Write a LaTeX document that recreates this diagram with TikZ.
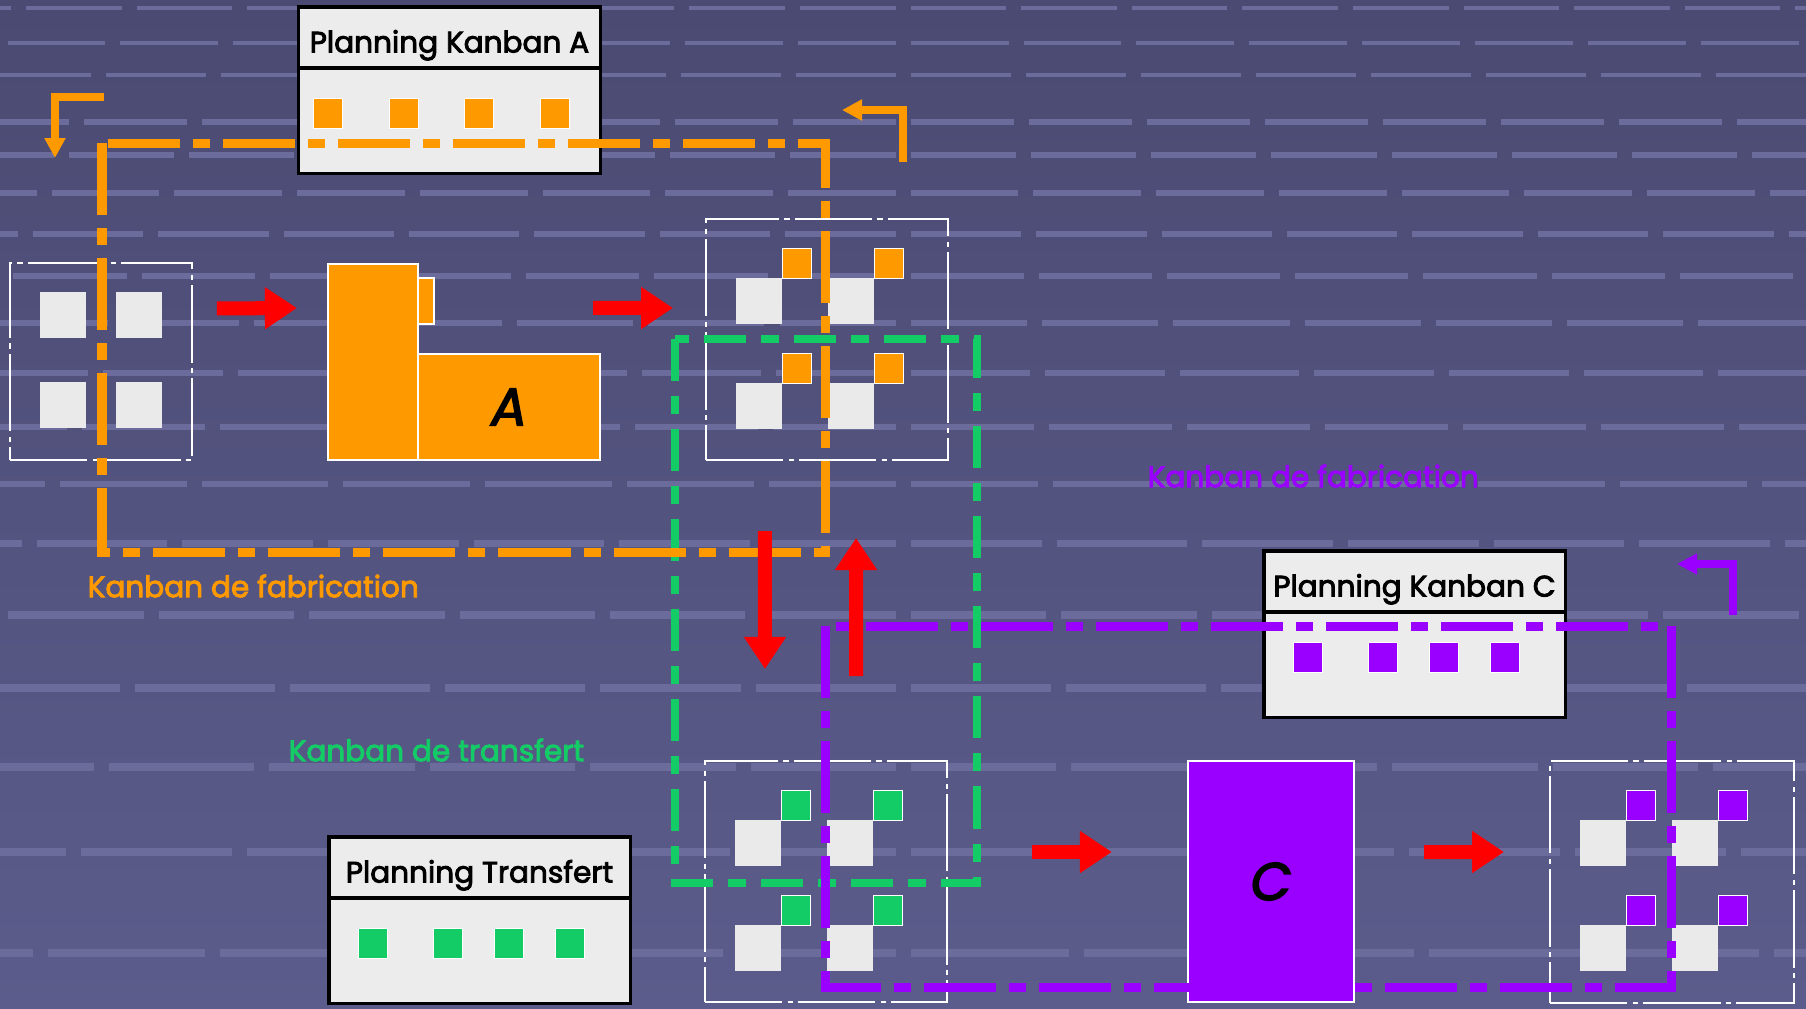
\documentclass[tikz,border=0pt]{standalone}
\usepackage{fontspec}
\setmainfont{Poppins}
\newfontfamily\kbfont{Poppins}[FakeBold=3]
\usetikzlibrary{arrows.meta, positioning, calc}
\definecolor{bgtop}{HTML}{4A4A72}
\definecolor{bgbot}{HTML}{5C5C8C}
\definecolor{bgstripe}{HTML}{6C6C9C}
\definecolor{kanA}{HTML}{FF9900}
\definecolor{kanT}{HTML}{14CC66}
\definecolor{kanC}{HTML}{9900FF}
\definecolor{paper}{HTML}{ECECEC}
\definecolor{binwhite}{HTML}{EAEAEA}
\definecolor{flow}{HTML}{FF0000}

\begin{document}
\begin{tikzpicture}[
    x=0.01cm, y=-0.01cm,
    font=\kbfont\fontsize{8.4}{10}\selectfont,
    board/.style={draw=black, fill=paper, line width=0.9pt, outer sep=0pt,
                  inner sep=0pt, minimum width=3.01cm},
    boardhead/.style={board, minimum height=0.61cm, text height=0.30cm, text depth=0pt},
    boardbody/.style={board, minimum height=1.05cm},
    card/.style={draw=white, line width=0.3pt, minimum width=0.29cm,
                 minimum height=0.30cm, inner sep=0pt, outer sep=0pt},
    stock/.style={draw=white, line width=0.5pt, inner sep=0pt,
                  dash pattern=on 22pt off 1.5pt on 1.5pt off 1.5pt},
    bin/.style={fill=binwhite, minimum size=0.46cm, inner sep=0pt, outer sep=0pt},
    machine/.style={draw=white, line width=0.6pt, inner sep=0pt, outer sep=0pt,
                    font=\kbfont\fontsize{15}{16}\selectfont\itshape},
    flowarrow/.style={draw=flow, line width=0.14cm,
                      -{Triangle[length=0.32cm, width=0.4cm]}},
    backflow/.style={line width=0.08cm, -{Triangle[length=0.2cm, width=0.2cm]}},
    fabloop/.style={line width=0.09cm,
                    dash pattern=on 0.72cm off 0.13cm on 0.17cm off 0.13cm},
    transloop/.style={line width=0.08cm, draw=kanT,
                      dash pattern=on 0.42cm off 0.15cm on 0.18cm off 0.15cm},
    looplabel/.style={anchor=west, inner sep=0pt},
]
    % Background
    \shade[top color=bgtop, bottom color=bgbot] (0,0) rectangle (1806,1008);
    \useasboundingbox (0,0) rectangle (1806,1008);
    \foreach \yy in {8,43,75,122,155,193,234,276,323,373,427,484,543,615,688,767,852,953} {
        \pgfmathsetmacro{\per}{1.10+0.00066*\yy}
        \pgfmathsetmacro{\seg}{\per-0.15}
        \pgfmathsetmacro{\xs}{910-1000*\per}
        \pgfmathsetmacro{\xe}{910+1000*\per}
        \pgfmathsetmacro{\th}{0.045+0.00004*\yy}
        \draw[bgstripe, line width=\th cm, dash pattern=on \seg cm off 0.15cm] (\xs,\yy) -- (\xe,\yy);
    }

    % Stock boxes
    \node[stock, minimum width=1.82cm, minimum height=1.97cm] (stockL) at (101,361.5) {};
    \foreach \dx/\dy [count=\i] in {31/30, 107/30, 31/120, 107/120}
        \node[bin, anchor=north west] (binL-\i) at ($(stockL.north west)+(\dx,\dy)$) {};

    \node[stock, minimum width=2.42cm, minimum height=2.41cm] (stockA) at (827,339.5) {};
    \node[stock, minimum width=2.42cm, minimum height=2.41cm] (stockT) at (826,881.5) {};
    \node[stock, minimum width=2.44cm, minimum height=2.42cm] (stockC) at (1672,882) {};
    \foreach \s/\c in {stockA/kanA, stockT/kanT, stockC/kanC}
        \foreach \dx/\dy [count=\i] in {31/60, 123/60, 31/165, 123/165} {
            \node[bin, anchor=north west] (\s-bin\i) at ($(\s.north west)+(\dx,\dy)$) {};
            \node[card, fill=\c, anchor=south west] (\s-card\i) at (\s-bin\i.north east) {};
        }

    % Machines
    \node[machine, fill=kanA, minimum width=0.90cm, minimum height=1.96cm] (machCol) at (373,362) {};
    \node[machine, fill=kanA, anchor=north west, minimum width=0.16cm, minimum height=0.46cm]
        (machTab) at ($(machCol.north east)+(0,14)$) {};
    \node[machine, fill=kanA, anchor=south west, minimum width=1.82cm, minimum height=1.06cm]
        (machA) at (machCol.south east) {A};
    \node[machine, fill=kanC, minimum width=1.66cm, minimum height=2.41cm] (machC) at (1271,881.5) {C};

    % Planning boards
    \node[boardhead] (headA) at (449.5,37.5) {Planning Kanban A};
    \node[boardbody, below=0pt of headA] (planA) {};
    \foreach \dx [count=\i] in {15,91,166,242}
        \node[card, fill=kanA, anchor=north west] (planA-card\i) at ($(planA.north west)+(\dx,30)$) {};

    \node[boardhead] (headC) at (1414.5,581.5) {Planning Kanban C};
    \node[boardbody, below=0pt of headC] (planC) {};
    \foreach \dx [count=\i] in {30,105,166,227}
        \node[card, fill=kanC, anchor=north west] (planC-card\i) at ($(planC.north west)+(\dx,30)$) {};

    \node[boardhead] (headT) at (479.5,867.5) {Planning Transfert};
    \node[boardbody, below=0pt of headT] (planT) {};
    \foreach \dx [count=\i] in {30,105,166,227}
        \node[card, fill=kanT, anchor=north west] (planT-card\i) at ($(planT.north west)+(\dx,30)$) {};

    % Kanban loops
    \coordinate (fabA-nw) at (102,143);
    \coordinate (fabA-se) at (825,552);
    \coordinate (trans-nw) at (675,339);
    \coordinate (trans-se) at (977,883);
    \coordinate (fabC-nw) at (825,626);
    \coordinate (fabC-se) at (1671,987);
    \draw[transloop] (trans-nw) rectangle (trans-se);
    \draw[fabloop, draw=kanA] (fabA-nw) rectangle (fabA-se);
    \draw[fabloop, draw=kanC] (fabC-nw) rectangle (fabC-se);

    % Return arrows
    \coordinate (backA-from) at (104,97);
    \coordinate (backA-to) at (55,158);
    \coordinate (outA-from) at (903,162);
    \coordinate (outA-to) at (842,110);
    \coordinate (outC-from) at (1733,615);
    \coordinate (outC-to) at (1677,564);
    \draw[backflow, draw=kanA] (backA-from) -| (backA-to);
    \draw[backflow, draw=kanA] (outA-from) |- (outA-to);
    \draw[backflow, draw=kanC] (outC-from) |- (outC-to);

    % Flow arrows
    \draw[flowarrow, shorten <=0.24cm, shorten >=0.31cm] ([yshift=0.53cm]stockL.east) -- ([yshift=0.54cm]machCol.west);
    \draw[flowarrow, shorten >=0.32cm] ([xshift=-0.07cm, yshift=0.46cm]machA.north east) -- ([yshift=0.315cm]stockA.west);
    \draw[flowarrow, shorten <=0.70cm, shorten >=0.91cm] ([xshift=-0.62cm]stockA.south) -- ([xshift=-0.61cm]stockT.north);
    \draw[flowarrow, shorten <=0.84cm, shorten >=0.77cm] ([xshift=0.30cm]stockT.north) -- ([xshift=0.29cm]stockA.south);
    \draw[flowarrow, shorten <=0.84cm, shorten >=0.76cm] ([yshift=0.295cm]stockT.east) -- ([yshift=0.295cm]machC.west);
    \draw[flowarrow, shorten <=0.70cm, shorten >=0.45cm] ([yshift=0.295cm]machC.east) -- ([yshift=0.30cm]stockC.west);

    % Loop labels
    \node[looplabel, text=kanA] (labelA) at (87,586) {Kanban de fabrication};
    \node[looplabel, text=kanT] (labelT) at (288,750) {Kanban de transfert};
    \node[looplabel, text=kanC] (labelC) at (1147,476) {Kanban de fabrication};
\end{tikzpicture}
\end{document}
